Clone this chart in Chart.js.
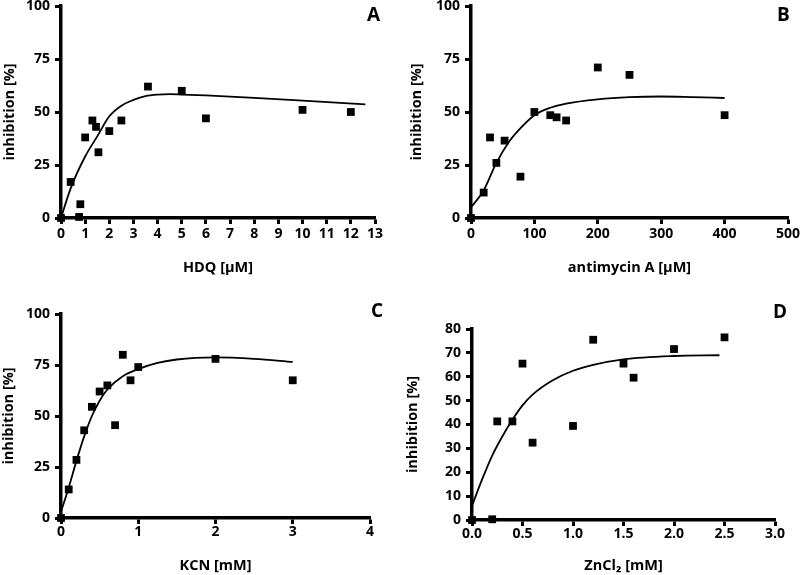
<!DOCTYPE html>
<html>
<head>
<meta charset="utf-8">
<script src="https://cdn.jsdelivr.net/npm/chart.js@4/dist/chart.umd.min.js"></script>
<style>
  body { margin: 0; background: #fff; width: 800px; height: 575px; position: relative; overflow: hidden; }
  .panel { position: absolute; }
  .tag { position: absolute; font: bold 19px "Open Sans", sans-serif; line-height: 20px; color: #000; }
</style>
</head>
<body>
<div class="panel" style="left:0;top:0;width:400px;height:287px"><canvas id="chartA"></canvas></div>
<div class="panel" style="left:400px;top:0;width:400px;height:287px"><canvas id="chartB"></canvas></div>
<div class="panel" style="left:0;top:287px;width:400px;height:288px"><canvas id="chartC"></canvas></div>
<div class="panel" style="left:400px;top:287px;width:400px;height:288px"><canvas id="chartD"></canvas></div>
<div class="tag" style="left:367px;top:4px">A</div>
<div class="tag" style="left:777px;top:4px">B</div>
<div class="tag" style="left:371px;top:300px">C</div>
<div class="tag" style="left:773px;top:301px">D</div>
<script>
// A: HDQ
const hdqX = [0, 0.4, 0.75, 0.8, 1.0, 1.3, 1.45, 1.55, 2, 2.5, 3.6, 5, 6, 10, 12];
const hdqY = [0, 17, 0.5, 6.5, 38, 46, 43, 31, 41, 46, 62, 60, 47, 51, 50];
const hdqFitX = [0, 0.4, 1, 1.5, 2, 2.5, 3, 3.5, 4, 4.5, 5, 6, 8, 10, 12.6];
const hdqFitY = [0, 14, 29, 38.5, 48, 53, 55.7, 57.5, 58.2, 58.4, 58.2, 57.8, 56.7, 55.4, 53.6];

// B: antimycin A
const antX = [0, 20, 30, 40, 53, 78, 100, 125, 135, 150, 200, 250, 400];
const antY = [0, 12, 38, 26, 36.5, 19.5, 50, 48.5, 47.5, 46, 71, 67.5, 48.5];
const antFitX = [0, 20, 40, 60, 80, 100, 125, 150, 200, 250, 300, 350, 400];
const antFitY = [5, 13, 26, 36, 43, 48.5, 52, 54, 56, 57, 57.3, 57, 56.6];

// C: KCN
const kcnX = [0, 0.1, 0.2, 0.3, 0.4, 0.5, 0.6, 0.7, 0.8, 0.9, 1, 2, 3];
const kcnY = [0, 14, 28.5, 43, 54.5, 62, 65, 45.5, 80, 67.5, 74, 78, 67.5];
const kcnFitX = [0, 0.1, 0.2, 0.3, 0.4, 0.5, 0.6, 0.8, 1, 1.25, 1.5, 2, 2.5, 3];
const kcnFitY = [3, 15, 28, 40, 50, 57.5, 63, 69.5, 73, 76, 77.7, 78.7, 78, 76.5];

// D: ZnCl2
const znX = [0, 0.2, 0.25, 0.4, 0.5, 0.6, 1.0, 1.2, 1.5, 1.6, 2.0, 2.5];
const znY = [0, 0.3, 41.3, 41.3, 65.5, 32.4, 39.4, 75.5, 65.5, 59.6, 71.6, 76.5];
const znFitX = [0, 0.1, 0.2, 0.3, 0.4, 0.5, 0.6, 0.8, 1.0, 1.2, 1.5, 2.0, 2.45];
const znFitY = [6, 17, 27, 35, 42, 48, 52.5, 58.5, 62.5, 65, 67.3, 68.7, 69];

const font = '"Open Sans", sans-serif';

function pts(xs, ys) {
  return xs.map((x, i) => ({ x: x, y: ys[i] }));
}

function makePanel(id, opt) {
  const W = 400, H = opt.h;
  const a = opt.area;
  return new Chart(document.getElementById(id), {
    type: 'scatter',
    data: {
      datasets: [
        {
          data: pts(opt.xs, opt.ys),
          pointStyle: 'rect',
          pointRadius: 5.5,
          backgroundColor: '#000',
          borderWidth: 0,
          clip: false,
          order: 0
        },
        {
          data: pts(opt.fitX, opt.fitY),
          showLine: true,
          pointRadius: 0,
          borderColor: '#000',
          borderWidth: 1.8,
          cubicInterpolationMode: 'monotone',
          order: 1
        }
      ]
    },
    options: {
      responsive: true,
      maintainAspectRatio: false,
      animation: false,
      events: [],
      layout: { padding: { top: a.top, right: W - a.right, left: 0, bottom: 0 } },
      plugins: { legend: { display: false }, tooltip: { enabled: false } },
      scales: {
        x: {
          type: 'linear',
          min: opt.xMin, max: opt.xMax,
          border: { color: '#000', width: 3.5 },
          grid: { drawOnChartArea: false, drawTicks: true, tickLength: 6, tickWidth: 3, tickColor: '#000' },
          ticks: {
            stepSize: opt.xStep,
            color: '#000',
            padding: opt.xPad,
            maxRotation: 0,
            autoSkip: false,
            font: { family: font, size: 14, weight: 'bold' },
            callback: v => v.toFixed(opt.xDec)
          },
          title: {
            display: true, text: opt.xTitle, color: '#000',
            font: { family: font, size: 14.5, weight: 'bold' },
            padding: { top: 0, bottom: opt.xTitlePad }
          },
          afterFit: s => { s.height = H - a.bottom; s.paddingLeft = 0; s.paddingRight = 0; }
        },
        y: {
          min: 0, max: opt.yMax,
          border: { color: '#000', width: 3.5 },
          grid: { drawOnChartArea: false, drawTicks: true, tickLength: 6, tickWidth: 3, tickColor: '#000' },
          ticks: {
            stepSize: opt.yStep,
            color: '#000',
            padding: 5,
            font: { family: font, size: 14, weight: 'bold' }
          },
          title: {
            display: true, text: 'inhibition [%]', color: '#000',
            font: { family: font, size: 14.5, weight: 'bold' },
            padding: { top: opt.yTitlePad, bottom: 0 }
          },
          afterFit: s => { s.width = a.left; s.paddingTop = 0; s.paddingBottom = 0; }
        }
      }
    }
  });
}

makePanel('chartA', {
  h: 287, area: { left: 61, right: 375, top: 6, bottom: 218 },
  xs: hdqX, ys: hdqY, fitX: hdqFitX, fitY: hdqFitY,
  xMin: 0, xMax: 13, xStep: 1, xDec: 0, yMax: 100, yStep: 25,
  xTitle: 'HDQ [μM]', xPad: 2, xTitlePad: 10, yTitlePad: 1
});
makePanel('chartB', {
  h: 287, area: { left: 71, right: 388, top: 6, bottom: 218 },
  xs: antX, ys: antY, fitX: antFitX, fitY: antFitY,
  xMin: 0, xMax: 500, xStep: 100, xDec: 0, yMax: 100, yStep: 25,
  xTitle: 'antimycin A [μM]', xPad: 2, xTitlePad: 10, yTitlePad: 8
});
makePanel('chartC', {
  h: 288, area: { left: 61, right: 370, top: 27, bottom: 231 },
  xs: kcnX, ys: kcnY, fitX: kcnFitX, fitY: kcnFitY,
  xMin: 0, xMax: 4, xStep: 1, xDec: 0, yMax: 100, yStep: 25,
  xTitle: 'KCN [mM]', xPad: 0, xTitlePad: 0, yTitlePad: 0
});
makePanel('chartD', {
  h: 288, area: { left: 72, right: 375, top: 42, bottom: 233 },
  xs: znX, ys: znY, fitX: znFitX, fitY: znFitY,
  xMin: 0, xMax: 3, xStep: 0.5, xDec: 1, yMax: 80, yStep: 10,
  xTitle: 'ZnCl₂ [mM]', xPad: 0, xTitlePad: 0, yTitlePad: 4
});
</script>
</body>
</html>
